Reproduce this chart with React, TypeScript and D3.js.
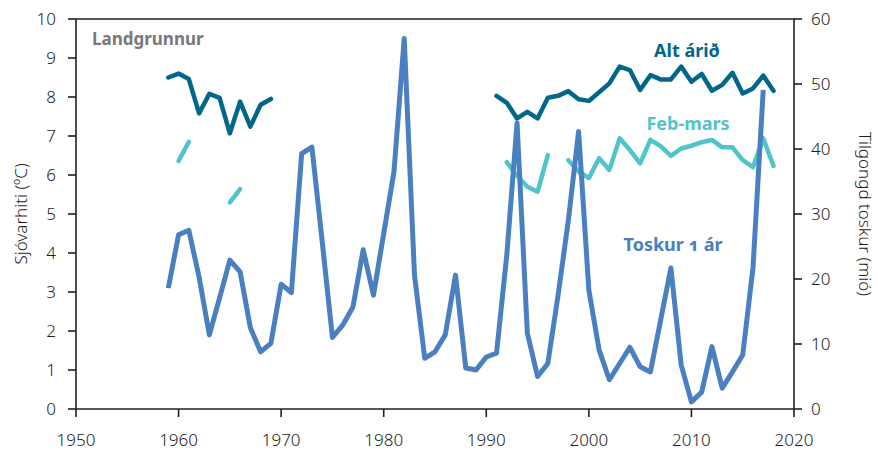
import { line, scaleLinear } from "d3";

const WIDTH = 878;
const HEIGHT = 453;
const M = { left: 76, right: 84, top: 19, bottom: 44 };

// Tilgongd toskur 1 ár (mió), 1959-2017, right axis
const toskurYears = [
  1959, 1960, 1961, 1962, 1963, 1964, 1965, 1966, 1967, 1968, 1969, 1970,
  1971, 1972, 1973, 1974, 1975, 1976, 1977, 1978, 1979, 1980, 1981, 1982,
  1983, 1984, 1985, 1986, 1987, 1988, 1989, 1990, 1991, 1992, 1993, 1994,
  1995, 1996, 1997, 1998, 1999, 2000, 2001, 2002, 2003, 2004, 2005, 2006,
  2007, 2008, 2009, 2010, 2011, 2012, 2013, 2014, 2015, 2016, 2017,
];
const toskurValues = [
  18.6, 26.8, 27.5, 20.3, 11.4, 17.1, 22.9, 21.1, 12.5, 8.8, 10.1, 19.2,
  17.9, 39.3, 40.3, 25.8, 11.0, 12.9, 15.7, 24.5, 17.5, 27.0, 36.5, 57.0,
  20.6, 7.8, 8.8, 11.4, 20.6, 6.3, 6.0, 8.0, 8.6, 23.7, 44.0, 11.7,
  5.0, 7.0, 17.5, 29.0, 42.7, 18.3, 9.1, 4.5, 7.0, 9.5, 6.5, 5.7,
  13.7, 21.7, 6.8, 1.1, 2.6, 9.6, 3.2, 5.7, 8.3, 21.7, 49.1,
];

// Sjóvarhiti alt árið (°C), null = no measurement
const altYears = [
  1959, 1960, 1961, 1962, 1963, 1964, 1965, 1966, 1967, 1968, 1969,
  1991, 1992, 1993, 1994, 1995, 1996, 1997, 1998, 1999, 2000, 2001, 2002,
  2003, 2004, 2005, 2006, 2007, 2008, 2009, 2010, 2011, 2012, 2013, 2014,
  2015, 2016, 2017, 2018,
];
const altValues = [
  8.5, 8.6, 8.46, 7.58, 8.08, 7.98, 7.07, 7.88, 7.24, 7.8, 7.95,
  8.03, 7.85, 7.45, 7.62, 7.45, 7.98, 8.03, 8.15, 7.94, 7.9, 8.12, 8.35,
  8.78, 8.69, 8.18, 8.56, 8.45, 8.45, 8.78, 8.39, 8.59, 8.16, 8.31, 8.62,
  8.09, 8.22, 8.55, 8.16,
];

// Sjóvarhiti feb-mars (°C)
const febYears = [
  1960, 1961, 1965, 1966,
  1992, 1993, 1994, 1995, 1996,
  1998, 1999, 2000, 2001, 2002, 2003, 2004, 2005, 2006, 2007, 2008, 2009,
  2010, 2011, 2012, 2013, 2014, 2015, 2016, 2017, 2018,
];
const febValues = [
  6.36, 6.85, 5.3, 5.64,
  6.33, 5.98, 5.7, 5.57, 6.51,
  6.38, 6.09, 5.92, 6.43, 6.13, 6.94, 6.64, 6.3, 6.9, 6.74, 6.49, 6.68,
  6.75, 6.84, 6.9, 6.71, 6.71, 6.38, 6.2, 6.94, 6.23,
];

const xTicks = [1950, 1960, 1970, 1980, 1990, 2000, 2010, 2020];
const leftTicks = [0, 1, 2, 3, 4, 5, 6, 7, 8, 9, 10];
const rightTicks = [0, 10, 20, 30, 40, 50, 60];

const DARK = "#00678a";
const LIGHT = "#4fc4ca";
const BLUE = "#4a80c0";
const AXIS = "#231f20";
const FONT = "'Noto Sans', 'Open Sans', sans-serif";

// split into runs of consecutive years so gaps are not bridged
function segments(years: number[], values: number[]) {
  const out: [number, number][][] = [];
  let cur: [number, number][] = [];
  years.forEach((yr, i) => {
    if (cur.length && yr !== cur[cur.length - 1][0] + 1) {
      out.push(cur);
      cur = [];
    }
    cur.push([yr, values[i]]);
  });
  if (cur.length) out.push(cur);
  return out;
}

export default function App() {
  const x = scaleLinear().domain([1950, 2020]).range([M.left, WIDTH - M.right]);
  const yL = scaleLinear().domain([0, 10]).range([HEIGHT - M.bottom, M.top]);
  const yR = scaleLinear().domain([0, 60]).range([HEIGHT - M.bottom, M.top]);

  const lineL = line<[number, number]>()
    .x((d) => x(d[0]))
    .y((d) => yL(d[1]));
  const lineR = line<[number, number]>()
    .x((d) => x(d[0]))
    .y((d) => yR(d[1]));

  const x0 = x(1950);
  const x1 = x(2020);
  const yb = yL(0);
  const yt = yL(10);
  const tickFont = { fontFamily: FONT, fontSize: 17, fontWeight: 300, fill: AXIS, fontVariantNumeric: "oldstyle-nums" } as const;

  return (
    <svg width={WIDTH} height={HEIGHT} style={{ position: "absolute", left: 0, top: 0 }}>
      <rect width={WIDTH} height={HEIGHT} fill="#fff" />

      {segments(febYears, febValues).map((s, i) => (
        <path key={"f" + i} d={lineL(s) ?? ""} fill="none" stroke={LIGHT} strokeWidth={4.5} strokeLinecap="round" strokeLinejoin="round" />
      ))}
      {segments(altYears, altValues).map((s, i) => (
        <path key={"a" + i} d={lineL(s) ?? ""} fill="none" stroke={DARK} strokeWidth={4.5} strokeLinecap="round" strokeLinejoin="round" />
      ))}
      <path
        d={lineR(toskurYears.map((yr, i) => [yr, toskurValues[i]] as [number, number])) ?? ""}
        fill="none"
        stroke={BLUE}
        strokeWidth={5}
        strokeLinejoin="round"
      />

      {/* frame */}
      <path d={`M${x0},${yb}V${yt}H${x1}V${yb}Z`} fill="none" stroke={AXIS} strokeWidth={1.6} />

      {xTicks.map((t) => (
        <g key={"x" + t}>
          <line x1={x(t)} x2={x(t)} y1={yb} y2={yb + 8} stroke={AXIS} strokeWidth={1.6} />
          <text x={x(t)} y={yb + 37} textAnchor="middle" {...tickFont}>{t}</text>
        </g>
      ))}
      {leftTicks.map((t) => (
        <g key={"l" + t}>
          <line x1={x0 - 8} x2={x0} y1={yL(t)} y2={yL(t)} stroke={AXIS} strokeWidth={1.6} />
          <text x={x0 - 20} y={yL(t)} dy="0.35em" textAnchor="end" {...tickFont}>{t}</text>
        </g>
      ))}
      {rightTicks.map((t) => (
        <g key={"r" + t}>
          <line x1={x1} x2={x1 + 8} y1={yR(t)} y2={yR(t)} stroke={AXIS} strokeWidth={1.6} />
          <text x={x1 + 17} y={yR(t)} dy="0.35em" textAnchor="start" {...tickFont}>{t}</text>
        </g>
      ))}

      <text transform={`translate(27,${(yb + yt) / 2}) rotate(-90)`} textAnchor="middle" fontFamily={FONT} fontSize={17} fontWeight={300} fill={AXIS}>
        Sjóvarhiti (ºC)
      </text>
      <text transform={`translate(859,${(yb + yt) / 2}) rotate(90)`} textAnchor="middle" fontFamily={FONT} fontSize={17} fontWeight={300} fill={AXIS}>
        Tilgongd toskur (mió)
      </text>

      <text x={92} y={45} fontFamily={FONT} fontSize={17} fontWeight={700} fill="#77787b">Landgrunnur</text>
      <text x={687} y={57} textAnchor="middle" fontFamily={FONT} fontSize={18} fontWeight={700} fill={DARK}>Alt árið</text>
      <text x={688} y={130} textAnchor="middle" fontFamily={FONT} fontSize={18} fontWeight={700} fill={LIGHT}>Feb-mars</text>
      <text x={673} y={251} textAnchor="middle" fontFamily={FONT} fontSize={18} fontWeight={700} fill={BLUE} style={{ fontVariantNumeric: "oldstyle-nums" }}>Toskur 1 ár</text>
    </svg>
  );
}
